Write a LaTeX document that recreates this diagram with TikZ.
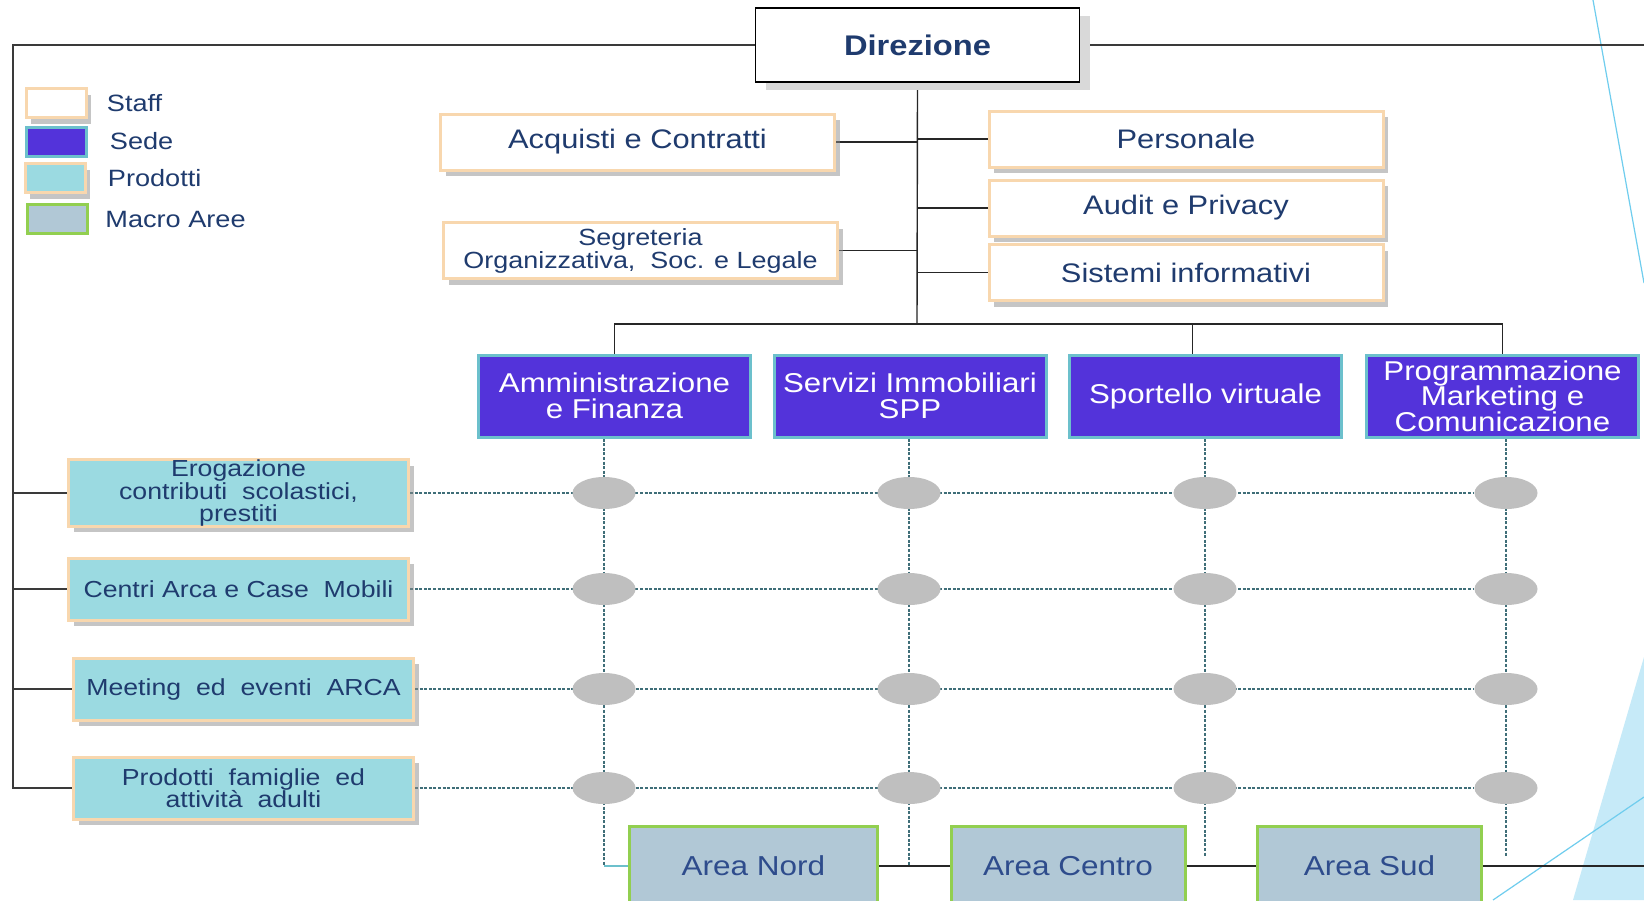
\documentclass[tikz,border=0pt]{standalone}
\usepackage{fontspec}
\setmainfont{Liberation Sans}[FakeStretch=1.15]
\usetikzlibrary{positioning,shapes.geometric,shadows,backgrounds}

\definecolor{navy}{HTML}{1F3B6E}
\definecolor{areatext}{HTML}{2E4C8C}
\definecolor{staffline}{HTML}{F8D7AE}
\definecolor{sedefill}{HTML}{5333DA}
\definecolor{sedeline}{HTML}{6CC0CC}
\definecolor{prodfill}{HTML}{9BDAE1}
\definecolor{areafill}{HTML}{B1C8D6}
\definecolor{arealine}{HTML}{92CF50}
\definecolor{dotgray}{HTML}{BFBFBF}
\definecolor{dotline}{HTML}{3F6E78}
\definecolor{framegray}{HTML}{3A3A3A}
\definecolor{decoblue}{HTML}{C6EAF8}
\definecolor{decoline}{HTML}{6FCDEE}

\tikzset{
  softshadow/.style={drop shadow={fill=black!45, opacity=0.5, shadow xshift=2.5pt, shadow yshift=-3pt}},
  dirbox/.style={draw=black, line width=0.8pt, fill=white, text=navy, minimum width=162pt, minimum height=37pt,
    font=\fontsize{14.2}{16}\selectfont\bfseries, drop shadow={fill=black!15, opacity=1, shadow xshift=5pt, shadow yshift=-4pt}},
  staffbox/.style={draw=staffline, line width=1.5pt, fill=white, text=navy, minimum width=197pt, minimum height=28pt,
    inner sep=0pt, align=center, font=\fontsize{13.4}{14}\selectfont, softshadow},
  sedebox/.style={draw=sedeline, line width=1.5pt, fill=sedefill, text=white, minimum width=136pt, minimum height=41pt,
    inner sep=0pt, align=center, font=\fontsize{13.6}{12.8}\selectfont},
  prodbox/.style={draw=staffline, line width=1.5pt, fill=prodfill, text=navy, minimum width=170pt, minimum height=31pt,
    inner sep=0pt, align=center, font=\fontsize{11.6}{11.2}\selectfont, softshadow},
  areabox/.style={draw=arealine, line width=1.5pt, fill=areafill, text=areatext, minimum height=40pt,
    inner sep=0pt, font=\fontsize{13.7}{16}\selectfont},
  legbox/.style={line width=1.5pt, minimum width=30pt, minimum height=14.5pt, inner sep=0pt},
  legtext/.style={text=navy, inner sep=0pt, font=\fontsize{11.8}{14}\selectfont},
  dot/.style={ellipse, fill=dotgray, minimum width=31.5pt, minimum height=16pt, inner sep=0pt},
  frame/.style={draw=framegray, line width=0.8pt},
  link/.style={draw=black!85, line width=0.7pt},
  grid/.style={draw=dotline, line width=0.6pt, dash pattern=on 1.5pt off 0.8pt},
}

\begin{document}
\begin{tikzpicture}[x=0.5pt, y=-0.5pt]
  \clip (0,0) rectangle (1644,900);

  % corners of the frame
  \coordinate (corner) at (13,45);
  \coordinate (rightedge) at (1644,45);
  \coordinate (bar) at (917,324);
  \coordinate (dotend) at (0,857);

  % Legend
  \node[legbox, draw=staffline, fill=white, softshadow] (lgstaff) at (56,103) {};
  \node[legbox, draw=sedeline, fill=sedefill] (lgsede) at (56,141.5) {};
  \node[legbox, draw=staffline, fill=prodfill, softshadow] (lgprod) at (55,178) {};
  \node[legbox, draw=arealine, fill=areafill] (lgarea) at (57.5,219) {};
  \node[legtext, right=9.5pt of lgstaff] (lgstafftxt) {Staff};
  \node[legtext, right=11pt of lgsede] (lgsedetxt) {Sede};
  \node[legtext, right=10.5pt of lgprod] (lgprodtxt) {Prodotti};
  \node[legtext, right=8pt of lgarea] (lgareatxt) {Macro Aree};

  % Direzione and staff
  \node[dirbox] (dir) at (917.5,45) {Direzione};
  \node[staffbox] (acq) at (637.5,142) {Acquisti e Contratti};
  \node[staffbox, font=\fontsize{11.7}{11.5}\selectfont] (seg) at (640.5,250.5) {Segreteria\\Organizzativa,\ \ Soc. e Legale};
  \node[staffbox] (pers) at (1186,139) {Personale};
  \node[staffbox] (aud) at (1186,208) {Audit e Privacy};
  \node[staffbox] (sis) at (1186,272.5) {Sistemi informativi};

  % Sede
  \node[sedebox] (amm) at (614.5,396) {Amministrazione\\e Finanza};
  \node[sedebox] (ser) at (910,396) {Servizi Immobiliari\\SPP};
  \node[sedebox] (spo) at (1205.5,396) {Sportello virtuale};
  \node[sedebox] (pro) at (1502.5,396) {Programmazione\\Marketing e\\Comunicazione};

  % Prodotti
  \node[prodbox] (ero) at (238.5,493) {Erogazione\\contributi\ \ scolastici,\\prestiti};
  \node[prodbox] (cen) at (238.5,589) {Centri Arca e Case\ \ Mobili};
  \node[prodbox] (mee) at (243.5,689) {Meeting\ \ ed\ \ eventi\ \ ARCA};
  \node[prodbox] (fam) at (243.5,788) {Prodotti\ \ famiglie\ \ ed\\attività\ \ adulti};

  % Macro Aree
  \node[areabox, minimum width=124pt] (nord) at (753.5,866) {Area Nord};
  \node[areabox, minimum width=117pt] (centro) at (1068,866) {Area Centro};
  \node[areabox, minimum width=112pt] (sud) at (1369.5,866) {Area Sud};

  % crossing points
  \foreach \r/\y in {1/493,2/589,3/689,4/788}
    \foreach \c/\x in {1/604,2/909,3/1205,4/1506}
      \node[dot] (e-\r-\c) at (\x,\y) {};

  \begin{scope}[on background layer]
    \fill[white] (0,0) rectangle (1644,900);

    % decoration on the right
    \fill[decoblue] (1644,657) -- (1573,900) -- (1644,900) -- cycle;
    \draw[decoline, line width=0.6pt] (1593,0) -- (1644,283);
    \draw[decoline, line width=0.6pt] (1493,900) -- (1644,797);

    % frame
    \draw[frame] (dir.west) -- (dir.west -| corner) -- (corner |- fam.west) -- (fam.west);
    \draw[frame] (dir.east) -- (dir.east -| rightedge);
    \foreach \n in {ero,cen,mee}
      \draw[frame] (corner |- \n.west) -- (\n.west);

    % tree
    \draw[link] (dir.south) -- (bar);
    \draw[link] (acq.east) -- (acq.east -| bar);
    \draw[link] (seg.east) -- (seg.east -| bar);
    \foreach \n in {pers,aud,sis}
      \draw[link] (\n.west) -- (\n.west -| bar);
    \draw[link] (amm.north) |- (bar) -| (pro.north);
    \draw[link] ([xshift=-6.5pt]spo.north) -- ([xshift=-6.5pt]spo.north |- bar);

    % rows
    \draw[grid] (ero.east) -- (e-1-4);
    \draw[grid] (cen.east) -- (e-2-4);
    \draw[grid] (mee.east) -- (e-3-4);
    \draw[grid] (fam.east) -- (e-4-4);

    % columns
    \draw[grid] (e-1-1 |- amm.south) -- (e-1-1 |- nord.west);
    \draw[draw=sedeline, line width=0.8pt] (e-1-1 |- nord.west) -- (nord.west);
    \draw[grid] (e-1-2 |- ser.south) -- (e-1-2 |- nord.east);
    \draw[grid] (e-1-3 |- spo.south) -- (e-1-3 |- dotend);
    \draw[grid] (e-1-4 |- pro.south) -- (e-1-4 |- dotend);

    % macro aree
    \draw[link] (nord.east) -- (centro.west);
    \draw[link] (centro.east) -- (sud.west);
    \draw[link] (sud.east) -- (sud.east -| rightedge);
  \end{scope}
\end{tikzpicture}
\end{document}
